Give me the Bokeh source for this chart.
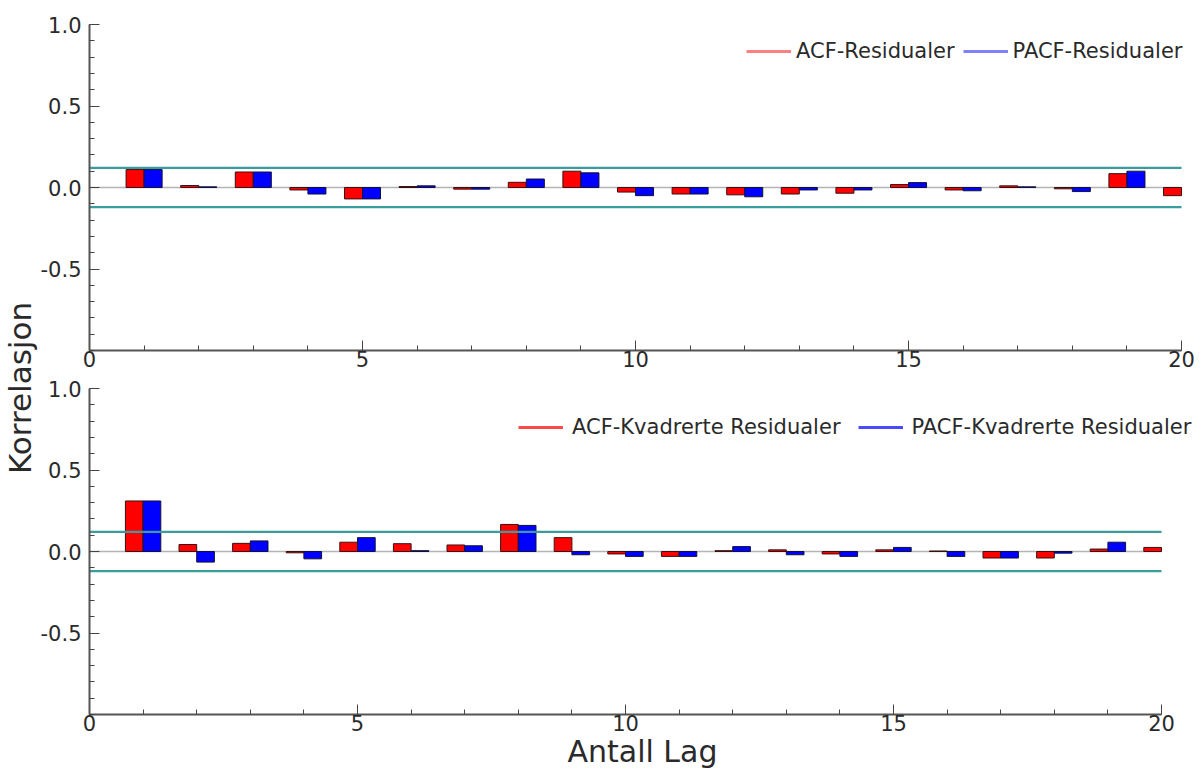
import numpy as np
from bokeh.plotting import figure
from bokeh.layouts import row, column
from bokeh.models import (Range1d, FixedTicker, Legend, LegendItem, Title,
                          NumeralTickFormatter)
from bokeh.embed import file_html
from bokeh.resources import INLINE

# ---------------- data ----------------
lags = list(range(1, 21))
acf_res = [0.11, 0.012, 0.095, -0.015, -0.07, 0.006, -0.01, 0.032, 0.10, -0.028,
           -0.04, -0.045, -0.04, -0.035, 0.018, -0.015, 0.01, -0.008, 0.085, -0.05]
# PACF bar at lag 20 lies outside the visible lag range in the reference
pacf_res = [0.11, 0.004, 0.095, -0.04, -0.07, 0.01, -0.01, 0.052, 0.09, -0.05,
            -0.04, -0.057, -0.015, -0.015, 0.03, -0.02, 0.004, -0.025, 0.10]
acf_sq = [0.31, 0.043, 0.05, -0.008, 0.057, 0.048, 0.04, 0.166, 0.085, -0.015,
          -0.03, 0.005, 0.01, -0.015, 0.01, 0.003, -0.04, -0.04, 0.015, 0.025]
pacf_sq = [0.31, -0.065, 0.065, -0.045, 0.085, 0.005, 0.035, 0.16, -0.02, -0.03,
           -0.03, 0.03, -0.02, -0.03, 0.025, -0.03, -0.04, -0.01, 0.057]
conf = 0.12
legend_top = ["ACF-Residualer", "PACF-Residualer"]
legend_bot = ["ACF-Kvadrerte Residualer", "PACF-Kvadrerte Residualer"]
x_ticks = [0, 5, 10, 15, 20]
y_ticks = [-0.5, 0.0, 0.5, 1.0]
lag_max = 20
xlabel = "Antall Lag"
ylabel = "Korrelasjon"

FONT = "DejaVu Sans"
TXT = "#2a2a2a"
BAR_W = 0.33
LABEL_W = 37


def make_panel(acf, pacf, labels, leg_colors, height, bl, bt, bb,
               frame_w, axis_px, leg_loc, leg_spacing, leg_standoff, with_xlabel=False):
    width = bl + frame_w + 4
    # frame is a bit wider than the lag axis so the legend can extend past lag 20
    x_end = lag_max * frame_w / axis_px
    p = figure(width=width, height=height, output_backend="svg", toolbar_location=None,
               x_range=Range1d(0, x_end), y_range=Range1d(-1, 1),
               min_border_left=bl, min_border_right=4, min_border_top=bt, min_border_bottom=bb,
               background_fill_color="white", border_fill_color="white", outline_line_color=None)
    try:
        p.frame_align = False
    except Exception:
        pass
    p.grid.visible = False
    # zero line
    p.segment(x0=[0], x1=[lag_max], y0=[0], y1=[0], line_color="#b4b4b4", line_width=1.5)
    p.vbar(x=[l - BAR_W / 2 for l in lags[:len(acf)]], top=acf, bottom=0, width=BAR_W,
           fill_color="#ff0000", line_color="#3a1010", line_width=1)
    p.vbar(x=[l + BAR_W / 2 for l in lags[:len(pacf)]], top=pacf, bottom=0, width=BAR_W,
           fill_color="#0000ff", line_color="#10103a", line_width=1)
    # confidence lines
    p.segment(x0=[0, 0], x1=[lag_max, lag_max], y0=[conf, -conf], y1=[conf, -conf],
              line_color="#3a9c9c", line_width=2.2)

    # axes
    xa = p.xaxis[0]
    xa.ticker = FixedTicker(ticks=x_ticks, minor_ticks=list(range(0, lag_max + 1)))
    xa.bounds = (0, lag_max)
    ya = p.yaxis[0]
    ya.ticker = FixedTicker(ticks=y_ticks,
                            minor_ticks=[round(v, 1) for v in np.arange(-1.0, 1.01, 0.1)])
    ya.formatter = NumeralTickFormatter(format="0.0")
    for ax in (xa, ya):
        ax.axis_line_color = "#555555"
        ax.axis_line_width = 2
        ax.major_tick_line_color = "#444444"
        ax.minor_tick_line_color = "#444444"
        ax.major_tick_in = 10
        ax.major_tick_out = 0
        ax.minor_tick_in = 5
        ax.minor_tick_out = 0
        ax.major_label_text_font = FONT
        ax.major_label_text_font_size = "21px"
        ax.major_label_text_color = TXT
    xa.major_label_standoff = 0
    ya.major_label_standoff = 8
    if with_xlabel:
        xa.axis_label = xlabel
        xa.axis_label_text_font = FONT
        xa.axis_label_text_font_size = "30px"
        xa.axis_label_text_font_style = "normal"
        xa.axis_label_text_color = TXT
        xa.axis_label_standoff = 0

    # legend (line proxies with no visible points)
    r1 = p.line(x=np.array([np.nan]), y=np.array([np.nan]), line_color=leg_colors[0], line_width=3)
    r2 = p.line(x=np.array([np.nan]), y=np.array([np.nan]), line_color=leg_colors[1], line_width=3)
    leg = Legend(items=[LegendItem(label=labels[0], renderers=[r1]),
                        LegendItem(label=labels[1], renderers=[r2])],
                 orientation="horizontal", location=leg_loc,
                 border_line_alpha=0, background_fill_alpha=0, padding=0, margin=0,
                 spacing=leg_spacing, glyph_width=45, glyph_height=20, label_height=20,
                 label_standoff=leg_standoff,
                 label_text_font=FONT, label_text_font_size="21px", label_text_color=TXT)
    p.add_layout(leg)
    return p


# top panel: frame x 86..1195 (lag 0..20 -> 86..1181), y 24..350
p1 = make_panel(acf_res, pacf_res, legend_top, ["#ff8080", "#8080ff"],
                height=375, bl=86 - LABEL_W, bt=24, bb=25,
                frame_w=1195 - 86, axis_px=1181 - 86,
                leg_loc=(657, 287), leg_spacing=8, leg_standoff=5)
# bottom panel: frame x 89..1195 (lag 0..20 -> 89..1161), y 388..714
p2 = make_panel(acf_sq, pacf_sq, legend_bot, ["#ff4a4a", "#4a4aff"],
                height=400, bl=89 - LABEL_W, bt=13, bb=61,
                frame_w=1195 - 89, axis_px=1161 - 89,
                leg_loc=(429, 275), leg_spacing=17, leg_standoff=9, with_xlabel=True)

# y-axis title strip spanning both panels
H = 375 + 400
pl = figure(width=LABEL_W, height=H, output_backend="svg", toolbar_location=None,
            x_range=Range1d(0, 1), y_range=Range1d(0, 1),
            x_axis_type=None, y_axis_type=None, outline_line_color=None,
            min_border_left=0, min_border_right=0, min_border_top=0, min_border_bottom=0,
            background_fill_color="white", border_fill_color="white", title=None)
try:
    pl.frame_align = False
except Exception:
    pass
pl.grid.visible = False
pl.add_layout(Title(text=ylabel, align="center", text_font=FONT, text_font_size="31px",
                    text_font_style="normal", text_color=TXT, standoff=0, offset=0), "left")

layout = row(pl, column(p1, p2, spacing=0), spacing=0)

open("out.html", "w").write(file_html(layout, INLINE))
